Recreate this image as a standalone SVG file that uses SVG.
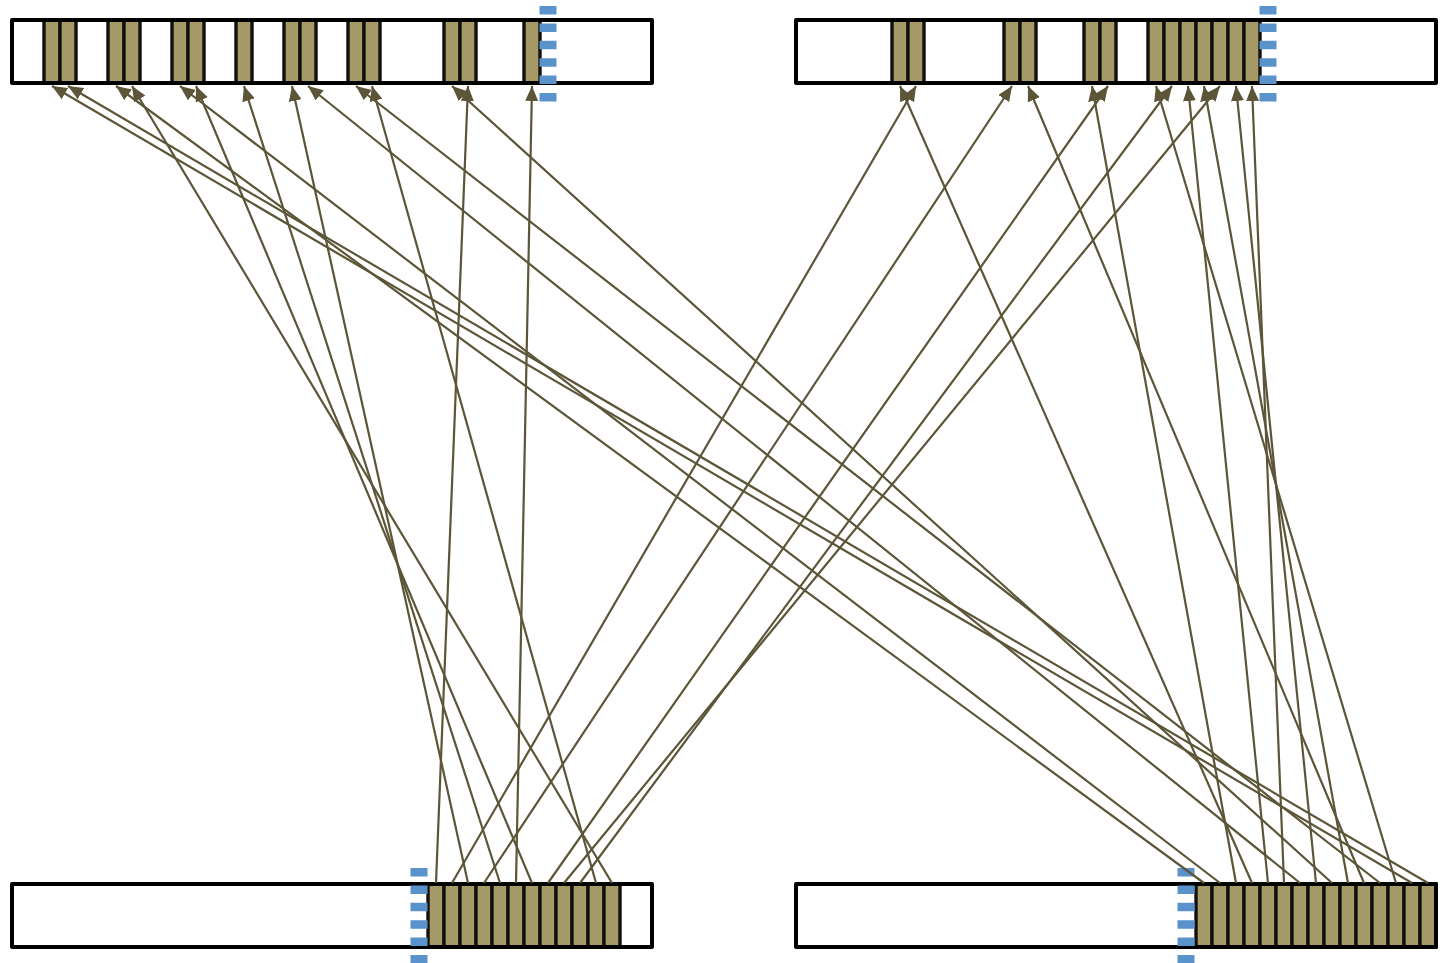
<svg xmlns="http://www.w3.org/2000/svg" width="1445" height="963" viewBox="0 0 1445 963">
  <style>
    .bar { fill: #ffffff; stroke: none; }
    .frame { fill: none; stroke: #000000; stroke-width: 4; stroke-linejoin: round; }
    .cell { fill: #a59a66; stroke: #111111; stroke-width: 3.4; }
    .mark { stroke: #5a92cc; stroke-width: 17; stroke-dasharray: 8.5 8.9; fill: none; }
    .conn line { stroke: #5c5538; stroke-width: 2.2; fill: none; marker-end: url(#head); }
  </style>
  <defs>
    <marker id="head" markerUnits="userSpaceOnUse" markerWidth="16" markerHeight="14" refX="15" refY="6.5" orient="auto">
      <path d="M0,0 L15,6.5 L0,13 z" fill="#5c5538"/>
    </marker>
  </defs>
  <rect width="1445" height="963" fill="#ffffff"/>

  <!-- upper left region -->
  <g id="region-top-left">
    <rect class="bar" x="12" y="20" width="640" height="63"/>
    <rect class="cell" x="44" y="20" width="16" height="63"/>
    <rect class="cell" x="60" y="20" width="16" height="63"/>
    <rect class="cell" x="108" y="20" width="16" height="63"/>
    <rect class="cell" x="124" y="20" width="16" height="63"/>
    <rect class="cell" x="172" y="20" width="16" height="63"/>
    <rect class="cell" x="188" y="20" width="16" height="63"/>
    <rect class="cell" x="236" y="20" width="16" height="63"/>
    <rect class="cell" x="284" y="20" width="16" height="63"/>
    <rect class="cell" x="300" y="20" width="16" height="63"/>
    <rect class="cell" x="348" y="20" width="16" height="63"/>
    <rect class="cell" x="364" y="20" width="16" height="63"/>
    <rect class="cell" x="444" y="20" width="16" height="63"/>
    <rect class="cell" x="460" y="20" width="16" height="63"/>
    <rect class="cell" x="524" y="20" width="16" height="63"/>
    <rect class="frame" x="12" y="20" width="640" height="63"/>
    <line class="mark" x1="548" y1="6" x2="548" y2="102"/>
  </g>

  <!-- upper right region -->
  <g id="region-top-right">
    <rect class="bar" x="796" y="20" width="640" height="63"/>
    <rect class="cell" x="892" y="20" width="16" height="63"/>
    <rect class="cell" x="908" y="20" width="16" height="63"/>
    <rect class="cell" x="1004" y="20" width="16" height="63"/>
    <rect class="cell" x="1020" y="20" width="16" height="63"/>
    <rect class="cell" x="1084" y="20" width="16" height="63"/>
    <rect class="cell" x="1100" y="20" width="16" height="63"/>
    <rect class="cell" x="1148" y="20" width="16" height="63"/>
    <rect class="cell" x="1164" y="20" width="16" height="63"/>
    <rect class="cell" x="1180" y="20" width="16" height="63"/>
    <rect class="cell" x="1196" y="20" width="16" height="63"/>
    <rect class="cell" x="1212" y="20" width="16" height="63"/>
    <rect class="cell" x="1228" y="20" width="16" height="63"/>
    <rect class="cell" x="1244" y="20" width="16" height="63"/>
    <rect class="frame" x="796" y="20" width="640" height="63"/>
    <line class="mark" x1="1268" y1="6" x2="1268" y2="102"/>
  </g>

  <!-- lower left region -->
  <g id="region-bottom-left">
    <rect class="bar" x="12" y="884" width="640" height="63"/>
    <rect class="cell" x="428" y="884" width="16" height="63"/>
    <rect class="cell" x="444" y="884" width="16" height="63"/>
    <rect class="cell" x="460" y="884" width="16" height="63"/>
    <rect class="cell" x="476" y="884" width="16" height="63"/>
    <rect class="cell" x="492" y="884" width="16" height="63"/>
    <rect class="cell" x="508" y="884" width="16" height="63"/>
    <rect class="cell" x="524" y="884" width="16" height="63"/>
    <rect class="cell" x="540" y="884" width="16" height="63"/>
    <rect class="cell" x="556" y="884" width="16" height="63"/>
    <rect class="cell" x="572" y="884" width="16" height="63"/>
    <rect class="cell" x="588" y="884" width="16" height="63"/>
    <rect class="cell" x="604" y="884" width="16" height="63"/>
    <rect class="frame" x="12" y="884" width="640" height="63"/>
    <line class="mark" x1="419" y1="868" x2="419" y2="964"/>
  </g>

  <!-- lower right region -->
  <g id="region-bottom-right">
    <rect class="bar" x="796" y="884" width="640" height="63"/>
    <rect class="cell" x="1196" y="884" width="16" height="63"/>
    <rect class="cell" x="1212" y="884" width="16" height="63"/>
    <rect class="cell" x="1228" y="884" width="16" height="63"/>
    <rect class="cell" x="1244" y="884" width="16" height="63"/>
    <rect class="cell" x="1260" y="884" width="16" height="63"/>
    <rect class="cell" x="1276" y="884" width="16" height="63"/>
    <rect class="cell" x="1292" y="884" width="16" height="63"/>
    <rect class="cell" x="1308" y="884" width="16" height="63"/>
    <rect class="cell" x="1324" y="884" width="16" height="63"/>
    <rect class="cell" x="1340" y="884" width="16" height="63"/>
    <rect class="cell" x="1356" y="884" width="16" height="63"/>
    <rect class="cell" x="1372" y="884" width="16" height="63"/>
    <rect class="cell" x="1388" y="884" width="16" height="63"/>
    <rect class="cell" x="1404" y="884" width="16" height="63"/>
    <rect class="cell" x="1420" y="884" width="16" height="63"/>
    <rect class="frame" x="796" y="884" width="640" height="63"/>
    <line class="mark" x1="1186" y1="868" x2="1186" y2="964"/>
  </g>

  <!-- references from the lower cells to the upper cells -->
  <g id="connectors" class="conn">
    <line x1="436" y1="883" x2="468" y2="86"/>
    <line x1="452" y1="883" x2="916" y2="86"/>
    <line x1="468" y1="883" x2="292" y2="86"/>
    <line x1="484" y1="883" x2="1012" y2="86"/>
    <line x1="500" y1="883" x2="244" y2="86"/>
    <line x1="516" y1="883" x2="532" y2="86"/>
    <line x1="532" y1="883" x2="196" y2="86"/>
    <line x1="548" y1="883" x2="1108" y2="86"/>
    <line x1="564" y1="883" x2="1220" y2="86"/>
    <line x1="580" y1="883" x2="1172" y2="86"/>
    <line x1="596" y1="883" x2="372" y2="86"/>
    <line x1="612" y1="883" x2="132" y2="86"/>
    <line x1="1204" y1="883" x2="116" y2="86"/>
    <line x1="1220" y1="883" x2="180" y2="86"/>
    <line x1="1236" y1="883" x2="1092" y2="86"/>
    <line x1="1252" y1="883" x2="900" y2="86"/>
    <line x1="1268" y1="883" x2="1188" y2="86"/>
    <line x1="1284" y1="883" x2="1252" y2="86"/>
    <line x1="1300" y1="883" x2="308" y2="86"/>
    <line x1="1316" y1="883" x2="1236" y2="86"/>
    <line x1="1332" y1="883" x2="452" y2="86"/>
    <line x1="1348" y1="883" x2="1204" y2="86"/>
    <line x1="1364" y1="883" x2="1028" y2="86"/>
    <line x1="1380" y1="883" x2="356" y2="86"/>
    <line x1="1396" y1="883" x2="1156" y2="86"/>
    <line x1="1412" y1="883" x2="52" y2="86"/>
    <line x1="1428" y1="883" x2="68" y2="86"/>
  </g>
</svg>
